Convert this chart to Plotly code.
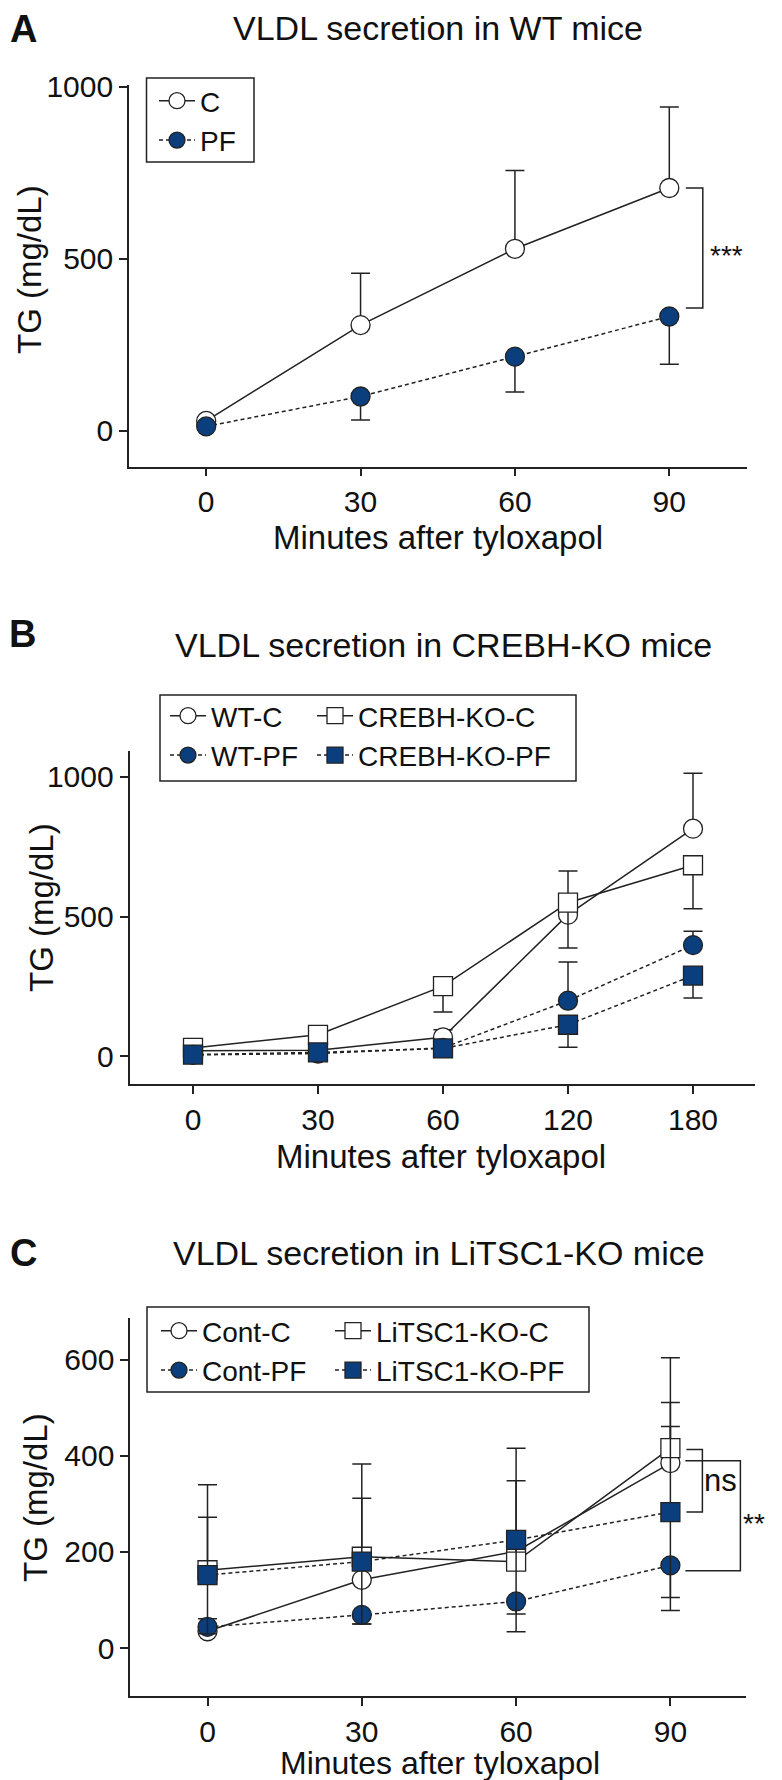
import plotly.graph_objects as go

FONT = "Liberation Sans, Arial, Helvetica, sans-serif"
NAVY = "#0b3e7c"
INK = "#222222"
W, H = 782, 1780

# ---- panel A: WT mice
minutes_a = [0, 30, 60, 90]
a_c = [28, 307, 529, 706]
a_c_up = [None, 151, 228, 236]
a_pf = [12, 99, 215, 332]
a_pf_dn = [None, 68, 103, 139]
a_bracket = [706, 357]

# ---- panel B: CREBH-KO mice
minutes_b = ["0", "30", "60", "120", "180"]
b_wt_c = [20, 22, 68, 507, 815]
b_wt_c_up = [None, None, 27, 156, 198]
b_ko_c = [30, 77, 251, 550, 684]
b_ko_c_dn = [None, None, 92, 162, 156]
b_wt_pf = [5, 10, 30, 199, 398]
b_wt_pf_up = [None, None, None, 139, 50]
b_ko_pf = [6, 14, 28, 113, 289]
b_ko_pf_dn = [None, None, None, 81, 80]
b_bracket_wt = [832, 395]
b_bracket_ko = [686, 291]

# ---- panel C: LiTSC1-KO mice
minutes_c = [0, 30, 60, 90]
c_cont_c = [35, 142, 201, 385]
c_cont_c_up = [None, None, None, 126]
c_cont_pf = [44, 69, 97, 172]
c_cont_pf_up = [17, None, None, None]
c_cont_pf_dn = [None, 19, 26, 94]
c_ko_c = [162, 190, 180, 416]
c_ko_c_up = [178, 193, 168, 188]
c_ko_pf = [152, 180, 225, 283]
c_ko_pf_up = [120, 132, 191, 178]
c_ko_pf_dn = [122, 130, 191, 178]
c_bracket_ko = [413, 283]
c_bracket_cont = [390, 161]


def fx(px):
    return px / W


def fy(py):
    return 1 - py / H


fig = go.Figure()


def series(x, y, name, filled, square, xa, ya, legend, up=None, dn=None):
    fig.add_trace(go.Scatter(
        x=x, y=y, name=name, mode="lines+markers", xaxis=xa, yaxis=ya, legend=legend,
        line=dict(color=INK, width=1.5, dash="4px,3px" if filled else "solid"),
        marker=dict(symbol="square" if square else "circle", size=19,
                    color=NAVY if filled else "white", line=dict(color=INK, width=1.3)),
        error_y=dict(type="data", symmetric=False, array=up or [], arrayminus=dn or [],
                     color=INK, thickness=1.5, width=9.5),
        cliponaxis=False,
    ))


# A
series(minutes_a, a_c, "C", False, False, "x", "y", "legend", up=a_c_up)
series(minutes_a, a_pf, "PF", True, False, "x", "y", "legend", dn=a_pf_dn)
# B
series(minutes_b, b_wt_c, "WT-C", False, False, "x2", "y2", "legend2", up=b_wt_c_up)
series(minutes_b, b_ko_c, "CREBH-KO-C", False, True, "x2", "y2", "legend3", dn=b_ko_c_dn)
series(minutes_b, b_wt_pf, "WT-PF", True, False, "x2", "y2", "legend2", up=b_wt_pf_up)
series(minutes_b, b_ko_pf, "CREBH-KO-PF", True, True, "x2", "y2", "legend3", dn=b_ko_pf_dn)
# C
series(minutes_c, c_cont_c, "Cont-C", False, False, "x3", "y3", "legend4", up=c_cont_c_up)
series(minutes_c, c_ko_c, "LiTSC1-KO-C", False, True, "x3", "y3", "legend5", up=c_ko_c_up)
series(minutes_c, c_cont_pf, "Cont-PF", True, False, "x3", "y3", "legend4",
       up=c_cont_pf_up, dn=c_cont_pf_dn)
series(minutes_c, c_ko_pf, "LiTSC1-KO-PF", True, True, "x3", "y3", "legend5",
       up=c_ko_pf_up, dn=c_ko_pf_dn)


def axis(**kw):
    base = dict(showline=True, linecolor=INK, linewidth=1.6, ticks="outside", ticklen=8,
                tickwidth=1.6, tickcolor=INK, showgrid=False, zeroline=False,
                tickfont=dict(family=FONT, size=30, color="#111"), fixedrange=True)
    base.update(kw)
    return base


# legend items: marker sits 23 px right of the legend's left edge (itemwidth 36)
def legend(marker_px, row1_py):
    return dict(x=fx(marker_px - 23), y=fy(row1_py - 26), xanchor="left", yanchor="top",
                bgcolor="rgba(0,0,0,0)", borderwidth=0, itemwidth=36, tracegroupgap=0,
                font=dict(family=FONT, size=28, color="#111"))


fig.update_layout(
    width=W, height=H, margin=dict(l=0, r=0, t=0, b=0, autoexpand=False),
    paper_bgcolor="white", plot_bgcolor="white",
    font=dict(family=FONT, color="#111"),
    xaxis=axis(domain=[fx(121), fx(739)], range=[-15, 105.1], tickvals=minutes_a, anchor="y"),
    yaxis=axis(domain=[fy(458.5), fy(77)], range=[-104.7, 1005.8], tickvals=[0, 500, 1000], anchor="x"),
    xaxis2=axis(domain=[fx(121.5), fx(746.5)], type="category", range=[-0.508, 4.492], anchor="y2"),
    yaxis2=axis(domain=[fy(1076), fy(743)], range=[-99.2, 1093], tickvals=[0, 500, 1000], anchor="x2"),
    xaxis3=axis(domain=[fx(122.2), fx(738)], range=[-15.03, 104.7], tickvals=minutes_c, anchor="y3"),
    yaxis3=axis(domain=[fy(1688.3), fy(1309.7)], range=[-100.3, 687.4], tickvals=[0, 200, 400, 600], anchor="x3"),
    legend=legend(169, 94),
    legend2=legend(180, 709),
    legend3=legend(327, 709),
    legend4=legend(171, 1324),
    legend5=legend(345, 1324),
)

# legend frames
for x0, y0, x1, y1 in [(138.5, 70, 246, 154), (152, 687, 568, 773), (139, 1299, 581, 1384)]:
    fig.add_shape(type="rect", xref="paper", yref="paper", x0=fx(x0), y0=fy(y0), x1=fx(x1), y1=fy(y1),
                  line=dict(color=INK, width=1.5), fillcolor="rgba(0,0,0,0)")


def bracket(xref, yref, xanchor, ends, p0, p1, text, tshift, tsize, yshift):
    top, bot = ends
    fig.add_shape(type="path", xref=xref, yref=yref, xsizemode="pixel", xanchor=xanchor,
                  path=f"M{p0},{top} H{p1} V{bot} H{p0}", line=dict(color=INK, width=1.5))
    fig.add_annotation(x=xanchor, y=(top + bot) / 2, xref=xref, yref=yref, text=text,
                       showarrow=False, xshift=tshift, yshift=yshift, xanchor="center", yanchor="middle",
                       font=dict(family=FONT, size=tsize, color="#111"))


bracket("x", "y", minutes_a[-1], a_bracket, 16.5, 33.5, "***", 57.5, 28, -8)
bracket("x2", "y2", minutes_b[-1], b_bracket_wt, 13, 27, "*", 37, 28, -8)
bracket("x2", "y2", minutes_b[-1], b_bracket_ko, 14, 67.5, "**", 86, 28, -14)
bracket("x3", "y3", minutes_c[-1], c_bracket_ko, 16, 32, "ns", 50, 31, 0)
bracket("x3", "y3", minutes_c[-1], c_bracket_cont, 15, 70, "**", 84, 28, -8)


def text(px, py, s, size, bold=False, angle=0):
    fig.add_annotation(x=fx(px), y=fy(py), xref="paper", yref="paper", text=f"<b>{s}</b>" if bold else s,
                       showarrow=False, xanchor="center", yanchor="middle", textangle=angle,
                       font=dict(family=FONT, size=size, color="#111"))


text(15, 21, "A", 38, bold=True)
text(14, 626, "B", 38, bold=True)
text(15, 1245, "C", 38, bold=True)
text(430, 19.5, "VLDL secretion in WT mice", 34)
text(435, 637, "VLDL secretion in CREBH-KO mice", 34)
text(431, 1245, "VLDL secretion in LiTSC1-KO mice", 34)
text(430, 529, "Minutes after tyloxapol", 33)
text(433, 1148, "Minutes after tyloxapol", 33)
text(432, 1755, "Minutes after tyloxapol", 32)
text(22, 262, "TG (mg/dL)", 33, angle=-90)
text(33, 900, "TG (mg/dL)", 33, angle=-90)
text(27, 1490, "TG (mg/dL)", 33, angle=-90)

fig.write_html("out.html")
